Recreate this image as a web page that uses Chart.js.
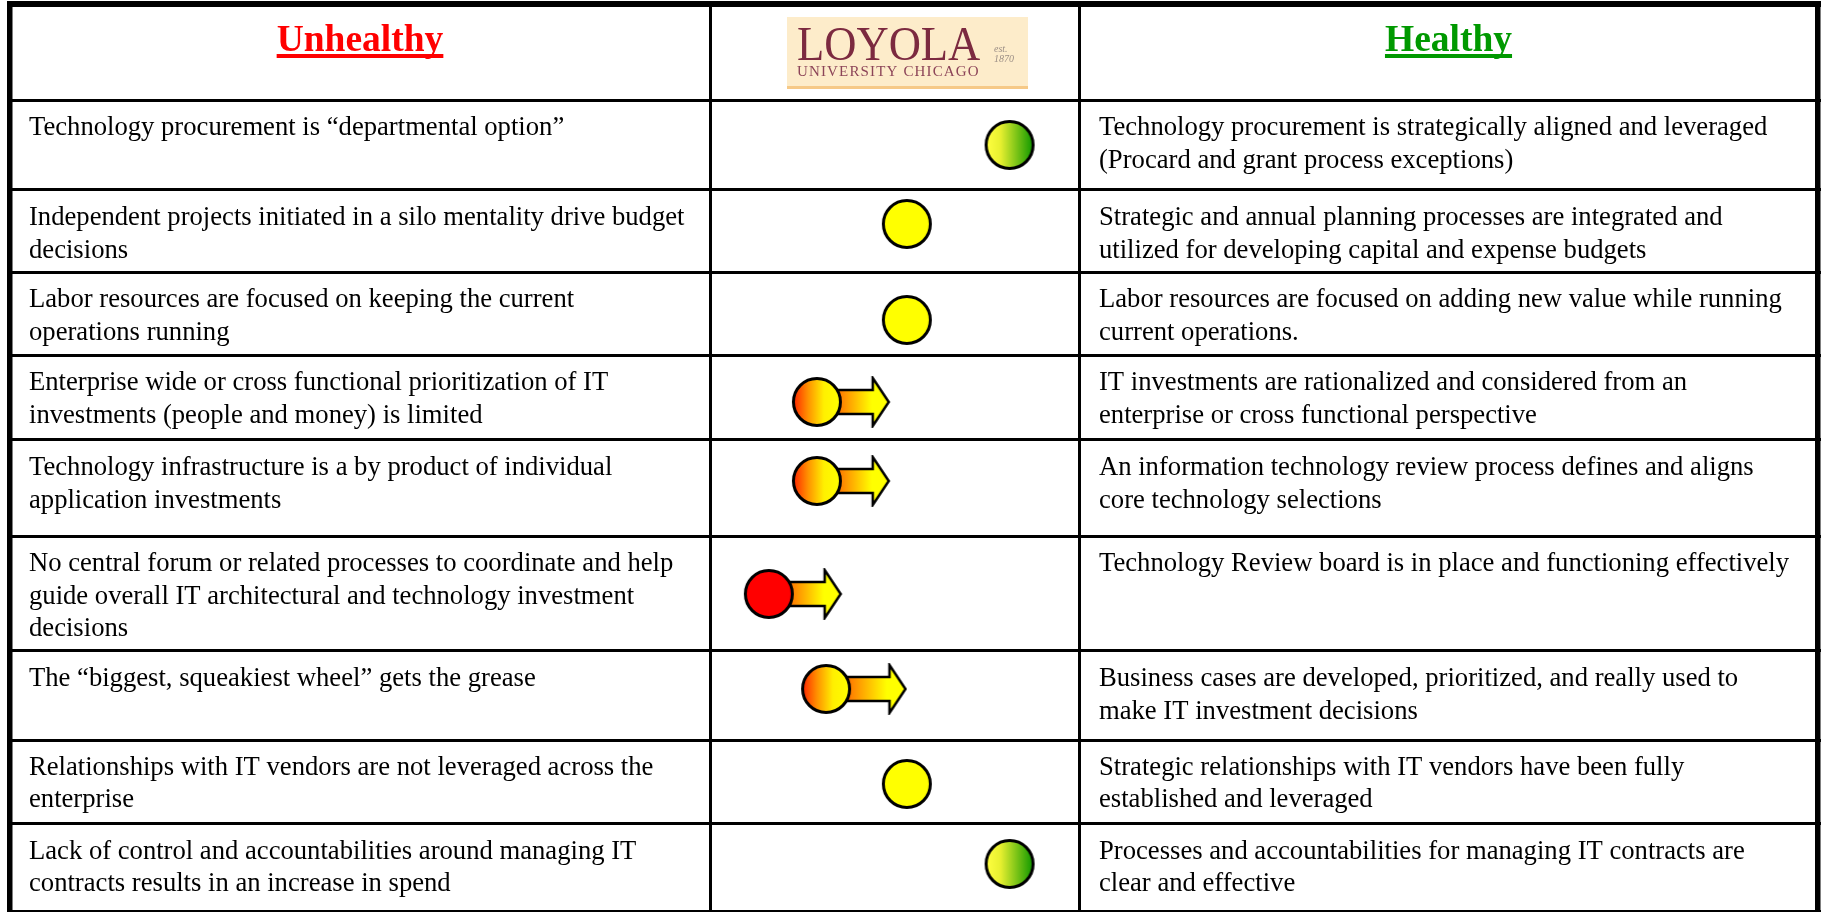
<!DOCTYPE html>
<html>
<head>
<meta charset="utf-8">
<title>Unhealthy / Healthy IT governance</title>
<script src="https://cdn.jsdelivr.net/npm/chart.js@4"></script>
<style>
  html, body { margin: 0; padding: 0; background: #fff; }
  canvas { display: block; }
</style>
</head>
<body>
<canvas id="chart" width="1822" height="912"></canvas>
<script>
// table text, one entry per row, one string per line
const unhealthyText = [
  ['Technology procurement is \u201Cdepartmental option\u201D'],
  ['Independent projects initiated in a silo mentality drive budget', 'decisions'],
  ['Labor resources are focused on keeping the current', 'operations running'],
  ['Enterprise wide or cross functional prioritization of IT', 'investments (people and money) is limited'],
  ['Technology infrastructure is a by product of individual', 'application investments'],
  ['No central forum or related processes to coordinate and help', 'guide overall IT architectural and technology investment', 'decisions'],
  ['The \u201Cbiggest, squeakiest wheel\u201D gets the grease'],
  ['Relationships with IT vendors are not leveraged across the', 'enterprise'],
  ['Lack of control and accountabilities around managing IT', 'contracts results in an increase in spend']
];
const healthyText = [
  ['Technology procurement is strategically aligned and leveraged', '(Procard and grant process exceptions)'],
  ['Strategic and annual planning processes are integrated and', 'utilized for developing capital and expense budgets'],
  ['Labor resources are focused on adding new value while running', 'current operations.'],
  ['IT investments are rationalized and considered from an', 'enterprise or cross functional perspective'],
  ['An information technology review process defines and aligns', 'core technology selections'],
  ['Technology Review board is in place and functioning effectively'],
  ['Business cases are developed, prioritized, and really used to', 'make IT investment decisions'],
  ['Strategic relationships with IT vendors have been fully', 'established and leveraged'],
  ['Processes and accountabilities for managing IT contracts are', 'clear and effective']
];

// where each row's marker sits: 0 = unhealthy side, 100 = healthy side
const rowScore = [81.1, 53.1, 53.1, 28.6, 28.6, 15.5, 31.1, 53.1, 81.1];
const rowLevel = [145, 224, 320, 402, 481, 594, 689, 784, 864];
const rowKind = ['green', 'yellow', 'yellow', 'orange', 'orange', 'red', 'orange', 'yellow', 'green'];
const arrowScore = [null, null, null, 38.9, 38.9, 25.8, 42.5, null, null];

// table rules
const rowLines = [4, 100, 189, 272, 355.5, 439, 536, 650, 740, 823, 911];
const columnLines = [-191.4, -0.4, 100.2, 301.4];

// layout of the text
const firstBaseline = [135, 225, 307, 390, 475, 571, 686, 774.5, 858.5];
const lineStep = 32.6;
const leftX = 29;
const rightX = 1099;
const serif = '"Liberation Serif", "Times New Roman", serif';

function circleImage(kind) {
  const c = document.createElement('canvas');
  c.width = 52; c.height = 52;
  const g = c.getContext('2d');
  const grad = g.createLinearGradient(3, 0, 49, 0);
  if (kind === 'green') {
    grad.addColorStop(0, '#ffff40');
    grad.addColorStop(0.3, '#e8f030');
    grad.addColorStop(1, '#129a00');
  } else if (kind === 'orange') {
    grad.addColorStop(0, '#ff2a00');
    grad.addColorStop(0.3, '#ff9000');
    grad.addColorStop(0.65, '#fff000');
    grad.addColorStop(1, '#ffff00');
  } else if (kind === 'red') {
    grad.addColorStop(0, '#ff0000');
    grad.addColorStop(1, '#ff0000');
  } else {
    grad.addColorStop(0, '#ffff00');
    grad.addColorStop(1, '#ffff00');
  }
  g.fillStyle = grad;
  g.strokeStyle = '#000';
  g.lineWidth = 3;
  g.beginPath();
  g.arc(26, 26, 23.5, 0, Math.PI * 2);
  g.fill();
  g.stroke();
  return c;
}

function arrowImage(len) {
  const c = document.createElement('canvas');
  c.width = len; c.height = 52;
  const g = c.getContext('2d');
  const grad = g.createLinearGradient(20, 0, len - 8, 0);
  grad.addColorStop(0, '#ff7800');
  grad.addColorStop(0.75, '#ffff00');
  grad.addColorStop(1, '#ffff00');
  g.fillStyle = grad;
  g.strokeStyle = '#000';
  g.lineWidth = 2.5;
  g.lineJoin = 'miter';
  g.beginPath();
  g.moveTo(1, 14);
  g.lineTo(len - 18, 14);
  g.lineTo(len - 18, 2);
  g.lineTo(len - 2, 26);
  g.lineTo(len - 18, 50);
  g.lineTo(len - 18, 38);
  g.lineTo(1, 38);
  g.closePath();
  g.fill();
  g.stroke();
  return c;
}

const circleImages = { green: circleImage('green'), yellow: circleImage('yellow'), orange: circleImage('orange'), red: circleImage('red') };
const shortArrow = arrowImage(72);
const longArrow = arrowImage(79);

function drawLogo(g) {
  g.fillStyle = '#fdecca';
  g.fillRect(787, 17, 241, 71);
  g.fillStyle = '#f6c987';
  g.fillRect(787, 86, 241, 3);
  g.textAlign = 'left';
  g.fillStyle = '#7c2a40';
  g.save();
  g.translate(797, 59.5);
  g.scale(0.98, 1.06);
  g.font = '45.5px ' + serif;
  g.fillText('LOYOLA', 0, 0);
  g.restore();
  g.fillStyle = '#8c4458';
  g.font = '15px ' + serif;
  g.letterSpacing = '1.15px';
  g.fillText('UNIVERSITY CHICAGO', 797, 75.5);
  g.letterSpacing = '0px';
  g.fillStyle = '#9c8f86';
  g.font = 'italic 10px ' + serif;
  g.fillText('est.', 994, 52);
  g.fillText('1870', 994, 62);
}

function drawHeader(g, text, color, cx) {
  g.font = 'bold 37.5px ' + serif;
  g.fillStyle = color;
  g.textAlign = 'center';
  g.fillText(text, cx, 50.5);
  const w = g.measureText(text).width;
  g.fillRect(cx - w / 2, 54, w, 4);
}

const tablePlugin = {
  id: 'tablePlugin',
  afterDraw(chart) {
    const g = chart.ctx;
    g.save();
    g.textBaseline = 'alphabetic';
    drawHeader(g, 'Unhealthy', '#ff0000', 360);
    drawHeader(g, 'Healthy', '#009900', 1448.5);
    drawLogo(g);
    g.textAlign = 'left';
    g.fillStyle = '#000';
    g.font = '26.65px ' + serif;
    unhealthyText.forEach((lines, i) => {
      lines.forEach((line, j) => g.fillText(line, leftX, firstBaseline[i] + j * lineStep));
    });
    healthyText.forEach((lines, i) => {
      lines.forEach((line, j) => g.fillText(line, rightX, firstBaseline[i] + j * lineStep));
    });
    g.restore();
  }
};

new Chart(document.getElementById('chart'), {
  type: 'scatter',
  data: {
    datasets: [
      {
        label: 'Current position',
        order: 0,
        data: rowScore.map((s, i) => ({ x: s, y: rowLevel[i] })),
        pointStyle: rowKind.map(k => circleImages[k]),
        pointRadius: 25
      },
      {
        label: 'Direction',
        order: 1,
        data: arrowScore.map((s, i) => ({ x: s, y: rowLevel[i] })),
        pointStyle: arrowScore.map((s, i) => i === 6 ? longArrow : shortArrow),
        pointRadius: 25
      }
    ]
  },
  options: {
    responsive: false,
    animation: false,
    events: [],
    // table starts a few pixels in from the page edge
    layout: { padding: { left: 7, top: 1, right: 1, bottom: 0 }, autoPadding: false },
    plugins: { legend: { display: false }, tooltip: { enabled: false } },
    scales: {
      x: {
        type: 'linear',
        min: -192.1,
        max: 302.2,
        afterBuildTicks: axis => { axis.ticks = columnLines.map(v => ({ value: v })); },
        ticks: { display: false, autoSkip: false },
        border: { display: false },
        grid: {
          drawTicks: false,
          color: '#000',
          lineWidth: c => (c.tick.value === columnLines[0] || c.tick.value === columnLines[3]) ? 5.5 : 3
        }
      },
      y: {
        type: 'linear',
        reverse: true,
        min: 1,
        max: 912,
        afterBuildTicks: axis => { axis.ticks = rowLines.map(v => ({ value: v })); },
        ticks: { display: false, autoSkip: false },
        border: { display: false },
        grid: {
          drawTicks: false,
          color: '#000',
          lineWidth: c => c.tick.value === rowLines[0] ? 6 : 3
        }
      }
    }
  },
  plugins: [tablePlugin]
});
</script>
</body>
</html>
